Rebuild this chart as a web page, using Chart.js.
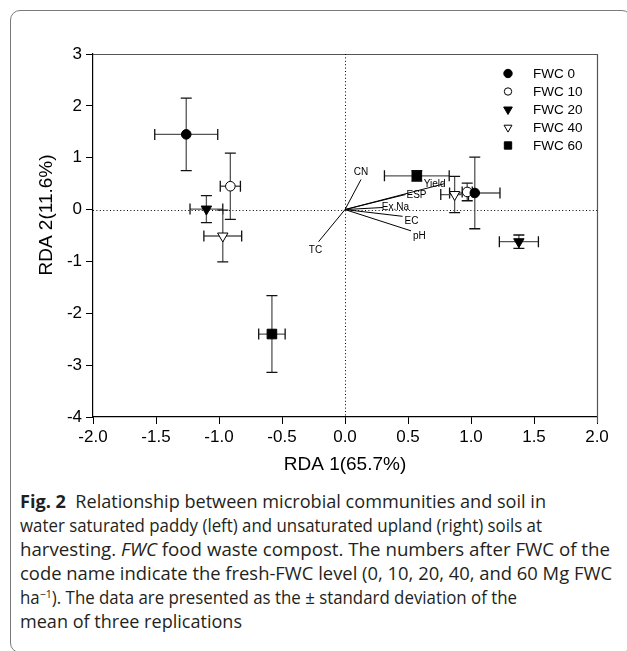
<!DOCTYPE html>
<html>
<head>
<meta charset="utf-8">
<script src="https://cdn.jsdelivr.net/npm/chart.js@4.4.1/dist/chart.umd.min.js"></script>
<style>
  html, body { margin: 0; padding: 0; background: #fff; width: 627px; height: 651px; overflow: hidden; }
  #frame { position: absolute; left: 10px; top: 10px; width: 622px; height: 643px; box-sizing: border-box;
           border: 1.5px solid #7a7a7a; border-radius: 10px; }
  #chartBox { position: absolute; left: 0; top: 0; width: 627px; height: 476px; }
  #caption { position: absolute; left: 20px; top: 489px; width: 605px; font-family: "Open Sans", "Noto Sans", sans-serif;
             font-size: 17.5px; line-height: 24px; color: #231f20; }
  #caption .l { white-space: nowrap; height: 24px; }
  #caption .l span { display: inline-block; transform-origin: 0 50%; }
  #caption sup { font-size: 11px; vertical-align: 6px; line-height: 0; }
</style>
</head>
<body>
<div id="frame"></div>
<div id="chartBox"><canvas id="c" width="627" height="476"></canvas></div>
<div id="caption">
  <div class="l"><span><b>Fig. 2</b>&nbsp; Relationship between microbial communities and soil in</span></div>
  <div class="l"><span>water saturated paddy (left) and unsaturated upland (right) soils at</span></div>
  <div class="l"><span>harvesting. <i>FWC</i> food waste compost. The numbers after FWC of the</span></div>
  <div class="l"><span>code name indicate the fresh-FWC level (0, 10, 20, 40, and 60 Mg FWC</span></div>
  <div class="l"><span>ha<sup>−1</sup>). The data are presented as the ± standard deviation of the</span></div>
  <div class="l"><span>mean of three replications</span></div>
</div>
<script>
// ---------------- data ----------------
const groups = ['FWC 0', 'FWC 10', 'FWC 20', 'FWC 40', 'FWC 60'];
// each group: [paddy (left cluster), upland (right cluster)]
const rda1   = [[-1.26, 1.03], [-0.91, 0.97], [-1.10, 1.38], [-0.97, 0.87], [-0.58, 0.57]];
const rda2   = [[ 1.45, 0.32], [ 0.45, 0.34], [ 0.01, -0.62], [-0.51, 0.29], [-2.40, 0.65]];
const rda1Sd = [[ 0.25, 0.20], [ 0.08, 0.04], [ 0.13, 0.155], [ 0.15, 0.11], [ 0.105, 0.257]];
const rda2Sd = [[ 0.70, 0.69], [ 0.64, 0.17], [ 0.26, 0.13], [ 0.50, 0.35], [ 0.74, 0.10]];
// environmental vectors (biplot arrows)
const envVars = ['CN', 'TC', 'Yield', 'ESP', 'Ex.Na', 'EC', 'pH'];
const envX    = [0.127, -0.21, 0.79, 0.48, 0.30, 0.457, 0.524];
const envY    = [0.58, -0.62, 0.50, 0.29, 0.04, -0.13, -0.41];
const xTicks  = [-2.0, -1.5, -1.0, -0.5, 0.0, 0.5, 1.0, 1.5, 2.0];
const yTicks  = [3, 2, 1, 0, -1, -2, -3, -4];
const xTitle  = 'RDA 1(65.7%)';
const yTitle  = 'RDA 2(11.6%)';

// ---------------- styles / layout ----------------
const captionLineWidths = [526, 522, 590, 592, 497, 222];
const markerStyles = [
  { style: 'circle',   rot: 0,   fill: '#000', r: 4.8, lr: 4.2 },
  { style: 'circle',   rot: 0,   fill: '#fff', r: 4.8, lr: 3.7 },
  { style: 'triangle', rot: 180, fill: '#000', r: 6.0, lr: 5.0 },
  { style: 'triangle', rot: 180, fill: '#fff', r: 6.0, lr: 4.6 },
  { style: 'rect',     rot: 0,   fill: '#000', r: 6.8, lr: 5.2 }
];
// label anchor relative to arrow end: [textAlign, dx, dy]
const labelPlace = {
  'CN':    ['center', 0, -7],
  'TC':    ['center', -3, 9],
  'Yield': ['right', 1, 1],
  'ESP':   ['left', 1, 1],
  'Ex.Na': ['left', -1, 0],
  'EC':    ['left', 2, 4.5],
  'pH':    ['left', 2, 5]
};
const FONT = '"Liberation Sans", Arial, sans-serif';

// fit caption lines to the reference widths
document.querySelectorAll('#caption .l span').forEach((sp, i) => {
  const w = sp.getBoundingClientRect().width;
  if (w > 0) sp.style.transform = 'scaleX(' + (captionLineWidths[i] / w) + ')';
});

const datasets = groups.map((g, i) => ({
  label: g,
  data: rda1[i].map((x, k) => ({ x: x, y: rda2[i][k], sx: rda1Sd[i][k], sy: rda2Sd[i][k] })),
  pointStyle: markerStyles[i].style,
  rotation: markerStyles[i].rot,
  pointRadius: markerStyles[i].r,
  pointHoverRadius: markerStyles[i].r,
  backgroundColor: markerStyles[i].fill,
  borderColor: '#000',
  borderWidth: 1,
  showLine: false
}));

function drawMarker(ctx, style, rot, r, x, y, fill) {
  ctx.save();
  ctx.beginPath();
  if (style === 'circle') {
    ctx.arc(x, y, r, 0, Math.PI * 2);
  } else if (style === 'rect') {
    const s = r * Math.SQRT1_2;
    ctx.rect(x - s, y - s, 2 * s, 2 * s);
  } else {
    let a = rot * Math.PI / 180;
    for (let k = 0; k < 3; k++) {
      const px = x + Math.sin(a) * r, py = y - Math.cos(a) * r;
      if (k === 0) ctx.moveTo(px, py); else ctx.lineTo(px, py);
      a += 2 * Math.PI / 3;
    }
    ctx.closePath();
  }
  ctx.fillStyle = fill;
  ctx.fill();
  ctx.lineWidth = 1;
  ctx.strokeStyle = '#000';
  ctx.stroke();
  ctx.restore();
}

const rdaPlugin = {
  id: 'rdaExtras',
  beforeDatasetsDraw(chart) {
    const { ctx, chartArea: a, scales: { x, y } } = chart;
    ctx.save();
    // top & right frame lines
    ctx.strokeStyle = '#555';
    ctx.lineWidth = 1.2;
    ctx.beginPath();
    ctx.moveTo(a.left, a.top + 0.5); ctx.lineTo(a.right + 0.5, a.top + 0.5); ctx.lineTo(a.right + 0.5, a.bottom + 6);
    ctx.stroke();
    // dotted zero lines
    ctx.strokeStyle = '#000';
    ctx.lineWidth = 1;
    ctx.setLineDash([1, 2.4]);
    const x0 = Math.round(x.getPixelForValue(0)) + 0.5;
    const y0 = Math.round(y.getPixelForValue(0)) + 0.5;
    ctx.beginPath();
    ctx.moveTo(x0, a.top); ctx.lineTo(x0, a.bottom);
    ctx.moveTo(a.left, y0); ctx.lineTo(a.right, y0);
    ctx.stroke();
    ctx.setLineDash([]);
    // biplot vectors
    ctx.strokeStyle = '#000';
    ctx.lineWidth = 1;
    ctx.font = '10px ' + FONT;
    ctx.fillStyle = '#000';
    envVars.forEach((v, i) => {
      const ex = x.getPixelForValue(envX[i]), ey = y.getPixelForValue(envY[i]);
      ctx.beginPath();
      ctx.moveTo(x.getPixelForValue(0), y.getPixelForValue(0));
      ctx.lineTo(ex, ey);
      ctx.stroke();
    });
    envVars.forEach((v, i) => {
      const ex = x.getPixelForValue(envX[i]), ey = y.getPixelForValue(envY[i]);
      const p = labelPlace[v];
      ctx.textAlign = p[0];
      ctx.textBaseline = 'middle';
      ctx.fillText(v, ex + p[1], ey + p[2]);
    });
    // error bars
    const cap = 5.5;
    chart.data.datasets.forEach((ds) => {
      ds.data.forEach((d) => {
        const cx = x.getPixelForValue(d.x), cy = y.getPixelForValue(d.y);
        const xl = x.getPixelForValue(d.x - d.sx), xr = x.getPixelForValue(d.x + d.sx);
        const yt = y.getPixelForValue(d.y + d.sy), yb = y.getPixelForValue(d.y - d.sy);
        ctx.strokeStyle = '#555';
        ctx.lineWidth = 1.3;
        ctx.beginPath();
        ctx.moveTo(xl, cy); ctx.lineTo(xr, cy);
        ctx.moveTo(cx, yt); ctx.lineTo(cx, yb);
        ctx.stroke();
        ctx.strokeStyle = '#111';
        ctx.beginPath();
        ctx.moveTo(xl, cy - cap); ctx.lineTo(xl, cy + cap);
        ctx.moveTo(xr, cy - cap); ctx.lineTo(xr, cy + cap);
        ctx.moveTo(cx - cap, yt); ctx.lineTo(cx + cap, yt);
        ctx.moveTo(cx - cap, yb); ctx.lineTo(cx + cap, yb);
        ctx.stroke();
      });
    });
    ctx.restore();
  },
  afterDraw(chart) {
    const { ctx, chartArea: a } = chart;
    ctx.save();
    // legend (inside plot, upper right)
    ctx.font = '13.5px ' + FONT;
    ctx.fillStyle = '#000';
    ctx.textAlign = 'left';
    ctx.textBaseline = 'middle';
    const lx = a.right - 89, ly = a.top + 19.5, step = 18;
    groups.forEach((g, i) => {
      const m = markerStyles[i];
      drawMarker(ctx, m.style, m.rot, m.lr, lx, ly + i * step, m.fill);
      ctx.fillText(g, lx + 25, ly + i * step + 0.5);
    });
    // y-axis title
    ctx.font = '19px ' + FONT;
    ctx.textAlign = 'center';
    ctx.translate(47, 215);
    ctx.rotate(-Math.PI / 2);
    ctx.fillText(yTitle, 0, 0);
    ctx.restore();
  }
};

new Chart(document.getElementById('c'), {
  type: 'scatter',
  data: { datasets: datasets },
  plugins: [rdaPlugin],
  options: {
    responsive: false,
    animation: false,
    devicePixelRatio: 1,
    layout: { padding: { top: 54, right: 30, left: 0, bottom: 0 } },
    plugins: { legend: { display: false }, tooltip: { enabled: false }, title: { display: false } },
    scales: {
      x: {
        type: 'linear', min: -2, max: 2,
        afterBuildTicks: (s) => { s.ticks = xTicks.map(v => ({ value: v })); },
        afterFit: (s) => { s.height = 59; },
        ticks: { font: { size: 17, family: FONT }, color: '#000', padding: 3,
                 callback: (v) => Number(v).toFixed(1), maxRotation: 0, autoSkip: false },
        grid: { drawOnChartArea: false, drawTicks: true, tickLength: 7, color: '#000', lineWidth: 1 },
        border: { display: true, color: '#000', width: 1.2 },
        title: { display: true, text: xTitle, font: { size: 19, family: FONT }, color: '#000', padding: { top: 0, bottom: 0 } }
      },
      y: {
        type: 'linear', min: -4, max: 3,
        afterBuildTicks: (s) => { s.ticks = yTicks.map(v => ({ value: v })); },
        afterFit: (s) => { s.width = 93; },
        ticks: { font: { size: 17, family: FONT }, color: '#000', padding: 4,
                 callback: (v) => String(v), autoSkip: false },
        grid: { drawOnChartArea: false, drawTicks: true, tickLength: 7, color: '#000', lineWidth: 1 },
        border: { display: true, color: '#000', width: 1.2 },
        title: { display: false }
      }
    }
  }
});
</script>
</body>
</html>
